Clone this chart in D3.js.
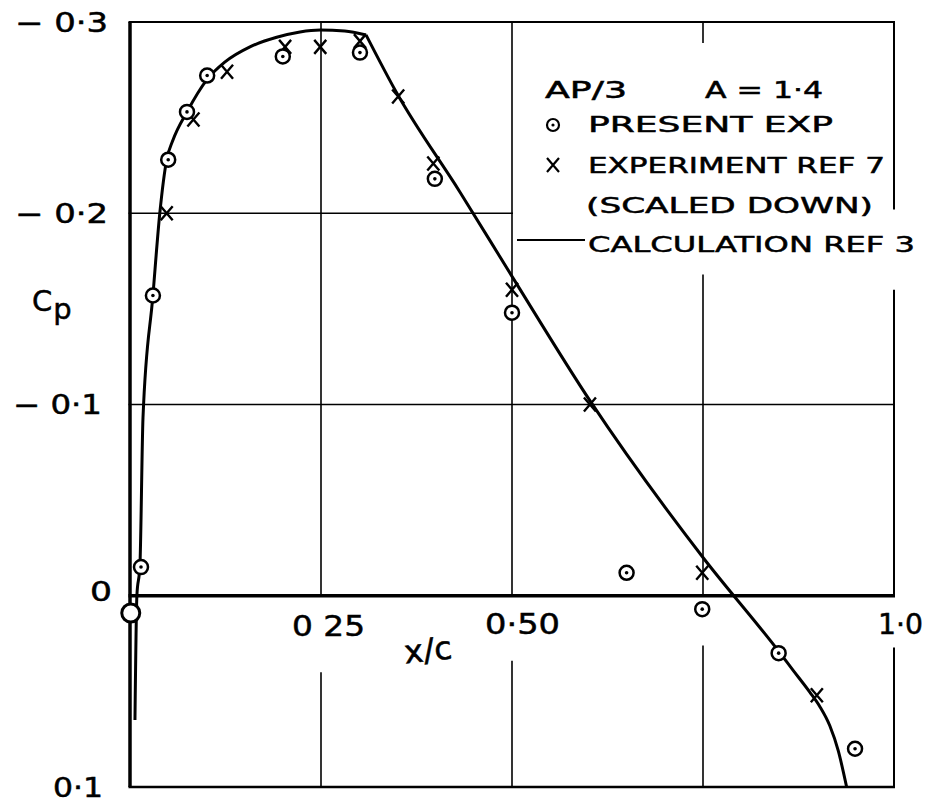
<!DOCTYPE html>
<html>
<head>
<meta charset="utf-8">
<script src="https://cdn.jsdelivr.net/npm/d3@7"></script>
<style>
  body { margin: 0; background: #fff; }
  text { font-family: "DejaVu Sans", sans-serif; fill: #000; stroke: #000; stroke-width: 0.5px; }
</style>
</head>
<body>
<svg width="925" height="803"></svg>
<script>
// values (x/c, Cp)
const presentX  = [0.0144, 0.030, 0.050, 0.0746, 0.101, 0.200, 0.301, 0.399, 0.500, 0.650, 0.749, 0.849, 0.949];
const presentCp = [-0.015, -0.157, -0.228, -0.253, -0.272, -0.282, -0.284, -0.218, -0.148, -0.012, 0.007, 0.030, 0.080];
// open ring at the leading edge (no centre dot)
const leX  = [0.001];
const leCp = [0.009];
const ref7X  = [0.048, 0.083, 0.127, 0.203, 0.249, 0.301, 0.351, 0.397, 0.500, 0.602, 0.749, 0.899];
const ref7Cp = [-0.200, -0.249, -0.274, -0.287, -0.287, -0.290, -0.261, -0.226, -0.160, -0.100, -0.012, 0.052];
// calculation, nose to the kink, then kink to the end
const calcFrontX  = [0.0065, 0.009, 0.013, 0.017, 0.030, 0.039, 0.048, 0.056, 0.0746, 0.101, 0.124, 0.157, 0.192, 0.2225, 0.249, 0.281, 0.309];
const calcFrontCp = [0.065, 0.000, -0.016, -0.093, -0.157, -0.200, -0.228, -0.238, -0.253, -0.270, -0.279, -0.287, -0.292, -0.2948, -0.2958, -0.2953, -0.2932];
const calcAftX  = [0.309, 0.349, 0.432, 0.500, 0.602, 0.750, 0.849, 0.868, 0.890, 0.903, 0.916, 0.927, 0.938];
const calcAftCp = [-0.2932, -0.263, -0.211, -0.167, -0.102, -0.020, 0.029, 0.039, 0.0505, 0.058, 0.068, 0.081, 0.100];

const yTickValues = [-0.3, -0.2, -0.1, 0, 0.1];
const yTickLabels = ['\u2212 0\u00b73', '\u2212 0\u00b72', '\u2212 0\u00b71', '0', '0\u00b71'];
const xTickValues = [0.25, 0.5, 1.0];
const xTickLabels = ['0 25', '0\u00b750', '1\u00b70'];
const legendLines = ['PRESENT  EXP', 'EXPERIMENT  REF 7', '(SCALED  DOWN)', 'CALCULATION REF 3'];

const svg = d3.select('svg');
const width = +svg.attr('width');
const height = +svg.attr('height');
const margin = { top: 22, right: 31, bottom: 16, left: 130 };

const x = d3.scaleLinear().domain([0, 1]).range([margin.left, width - margin.right]);
const y = d3.scaleLinear().domain([-0.3, 0.1]).range([margin.top, height - margin.bottom]);

const pts = (xs, ys) => xs.map((v, i) => ({ x: v, cp: ys[i] }));

// grid: vertical lines, with the breaks the drawing leaves for its lettering
const vGrid = [
  { v: 0.25, gaps: [[0, 0.04]], w: 1.6 },
  { v: 0.5, gaps: [[0, 0.034]], w: 1.6 },
  { v: 0.75, gaps: [[-0.289, -0.168], [0, 0.026]], w: 1.6 },
  { v: 1.0, gaps: [[-0.202, -0.16], [0, 0.027]], w: 2 },
  { v: 0, gaps: [], w: 3.5 }
];
const grid = svg.append('g').attr('class', 'grid').attr('stroke', '#000').attr('fill', 'none');
vGrid.forEach(g => {
  let start = -0.3;
  const segs = [];
  g.gaps.forEach(([a, b]) => { segs.push([start, a]); start = b; });
  segs.push([start, 0.1]);
  segs.forEach(([a, b]) => {
    grid.append('line')
      .attr('x1', x(g.v)).attr('x2', x(g.v))
      .attr('y1', y(a)).attr('y2', y(b))
      .attr('stroke-width', g.w);
  });
});
const hGrid = [
  { v: -0.3, to: 1, w: 2 },
  { v: -0.2, to: 0.5, w: 1.6 },
  { v: -0.1, to: 1, w: 1.6 },
  { v: 0, to: 1, w: 3.5 },
  { v: 0.1, to: 1, w: 2.5 }
];
hGrid.forEach(g => {
  grid.append('line')
    .attr('x1', x(0) - 1.5).attr('x2', x(g.to) + 1)
    .attr('y1', y(g.v)).attr('y2', y(g.v))
    .attr('stroke-width', g.w);
});

// tick labels (start x and width of each label as lettered)
const yLabX = [15, 15, 13, 90, 53];
const yLabW = [93, 93, 89, 22, 50];
svg.append('g').selectAll('text').data(yTickValues).enter().append('text')
  .attr('x', (d, i) => yLabX[i])
  .attr('y', d => y(d) + (d === 0 ? -4 : 0))
  .attr('dy', '0.36em')
  .attr('textLength', (d, i) => yLabW[i])
  .attr('lengthAdjust', 'spacingAndGlyphs')
  .style('font-size', '27px')
  .text((d, i) => yTickLabels[i]);

const xLabX = [292, 485, 878];
const xLabW = [73, 75, 45];
svg.append('g').selectAll('text').data(xTickValues).enter().append('text')
  .attr('x', (d, i) => xLabX[i])
  .attr('y', (d, i) => (i === 0 ? 626 : 624))
  .attr('dy', '0.36em')
  .attr('textLength', (d, i) => xLabW[i])
  .attr('lengthAdjust', 'spacingAndGlyphs')
  .style('font-size', '29px')
  .text((d, i) => xTickLabels[i]);

// axis names
svg.append('text').attr('x', 404).attr('y', 661)
  .attr('transform', 'rotate(-6 428 650)')
  .attr('textLength', 48).attr('lengthAdjust', 'spacingAndGlyphs')
  .style('font-size', '32px').text('x/c');
const cp = svg.append('text').attr('x', 32).attr('y', 311).style('font-size', '29px');
cp.append('tspan').text('C');
cp.append('tspan').attr('dy', 8).attr('dx', 1).text('p');

// calculation line
const line = d3.line().x(d => x(d.x)).y(d => y(d.cp)).curve(d3.curveMonotoneX);
svg.append('g').selectAll('path')
  .data([pts(calcFrontX, calcFrontCp), pts(calcAftX, calcAftCp)])
  .enter().append('path')
  .attr('d', line)
  .attr('fill', 'none')
  .attr('stroke', '#000')
  .attr('stroke-width', 3)
  .attr('stroke-linejoin', 'round');

// experiment ref 7 crosses
const cross = svg.append('g').attr('stroke', '#000').attr('stroke-width', 2.4).attr('fill', 'none');
cross.selectAll('path').data(pts(ref7X, ref7Cp)).enter().append('path')
  .attr('d', d => {
    const cx = x(d.x), cy = y(d.cp);
    return `M${cx - 6},${cy - 7}L${cx + 6},${cy + 7}M${cx + 6},${cy - 7}L${cx - 6},${cy + 7}`;
  });

// present experiment circles
const rings = svg.append('g');
rings.selectAll('circle.ring').data(pts(presentX, presentCp)).enter().append('circle')
  .attr('class', 'ring')
  .attr('cx', d => x(d.x)).attr('cy', d => y(d.cp)).attr('r', 7)
  .attr('fill', '#fff').attr('stroke', '#000').attr('stroke-width', 2.5);
rings.selectAll('circle.dot').data(pts(presentX, presentCp)).enter().append('circle')
  .attr('class', 'dot')
  .attr('cx', d => x(d.x)).attr('cy', d => y(d.cp)).attr('r', 1.8)
  .attr('fill', '#000');
rings.selectAll('circle.le').data(pts(leX, leCp)).enter().append('circle')
  .attr('class', 'le')
  .attr('cx', d => x(d.x)).attr('cy', d => y(d.cp)).attr('r', 9)
  .attr('fill', '#fff').attr('stroke', '#000').attr('stroke-width', 3);

// legend
const legend = svg.append('g');
legend.append('text').attr('x', 545).attr('y', 98)
  .attr('textLength', 82).attr('lengthAdjust', 'spacingAndGlyphs')
  .style('font-size', '23px').text('AP/3');
legend.append('text').attr('x', 705).attr('y', 98)
  .attr('textLength', 118).attr('lengthAdjust', 'spacingAndGlyphs')
  .style('font-size', '23px').text('A = 1\u00b74');
const ly = [132, 173, 213, 252];
const lx = [588, 588, 586, 588];
const lw = [245, 297, 287, 327];
legend.selectAll('text.entry').data(legendLines).enter().append('text')
  .attr('class', 'entry')
  .attr('x', (d, i) => lx[i])
  .attr('y', (d, i) => ly[i])
  .attr('textLength', (d, i) => lw[i])
  .attr('lengthAdjust', 'spacingAndGlyphs')
  .style('font-size', '22px')
  .text(d => d);
legend.append('circle').attr('cx', 553).attr('cy', 125).attr('r', 6)
  .attr('fill', '#fff').attr('stroke', '#000').attr('stroke-width', 2.2);
legend.append('circle').attr('cx', 553).attr('cy', 125).attr('r', 1.6).attr('fill', '#000');
legend.append('path')
  .attr('d', 'M547,158L559,172M559,158L547,172')
  .attr('stroke', '#000').attr('stroke-width', 2.2);
legend.append('line').attr('x1', 517).attr('x2', 585).attr('y1', 240).attr('y2', 240)
  .attr('stroke', '#000').attr('stroke-width', 2.2);
</script>
</body>
</html>
